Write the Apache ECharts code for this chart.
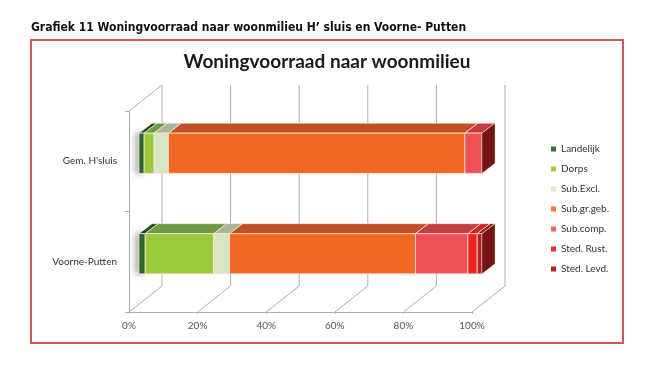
<!DOCTYPE html>
<html>
<head>
<meta charset="utf-8">
<script src="https://cdn.jsdelivr.net/npm/echarts@6/dist/echarts.min.js"></script>
<style>
  html, body { margin: 0; padding: 0; background: #fff; }
  #chart { width: 657px; height: 377px; }
</style>
</head>
<body>
<div id="chart"></div>
<script>
// data (percentages of housing stock)
const categories = ["Gem. H'sluis", "Voorne-Putten"];
const seriesNames = ["Landelijk", "Dorps", "Sub.Excl.", "Sub.gr.geb.", "Sub.comp.", "Sted. Rust.", "Sted. Levd."];
const landelijk = [1.5, 1.8];
const dorps = [2.9, 20.0];
const subExcl = [4.2, 4.6];
const subGrGeb = [86.4, 54.2];
const subComp = [5.0, 15.3];
const stedRust = [0, 2.7];
const stedLevd = [0, 1.4];
const xTicks = [0, 20, 40, 60, 80, 100];

const values = [landelijk, dorps, subExcl, subGrGeb, subComp, stedRust, stedLevd];

// colours: front face, top face, legend swatch
const frontColors = ["#2f6a2c", "#9bc93c", "#d6e5c2", "#f26722", "#ee5156", "#ee2424", "#b3232a"];
const topColors = ["#245222", "#6f9a45", "#a6b897", "#c04f26", "#c73c3e", "#cc2522", "#8e1a1c"];
const legendColors = ["#3d6e37", "#9acd42", "#dbe8c9", "#f57a38", "#f1646b", "#ee2b2b", "#b52227"];
const sideColor = "#751414";
const wallColor = "#a7b0b8";

// 3D offsets (pixels): full depth of the walls, and front/back of the bars
const DX = 33, DY = -26;
const FX = 10, FY = -8;
const BX = 13, BY = -10;

const chart = echarts.init(document.getElementById("chart"));

// stacked start/end per series
const stacked = [];
const running = categories.map(() => 0);
values.forEach((vals, s) => {
  stacked.push(vals.map((v, i) => {
    const start = running[i];
    running[i] += v;
    return [start, running[i], i];
  }));
});

const renderWalls = (params, api) => {
  const cs = params.coordSys;
  const top = cs.y, bottom = cs.y + cs.height;
  const lineStyle = { stroke: wallColor, lineWidth: 1 };
  const children = [];
  xTicks.forEach((v) => {
    const px = api.coord([v, 0])[0];
    children.push({
      type: "line",
      shape: { x1: px + DX, y1: top + DY, x2: px + DX, y2: bottom + DY },
      style: lineStyle,
    });
    children.push({
      type: "line",
      shape: { x1: px, y1: bottom, x2: px + DX, y2: bottom + DY },
      style: lineStyle,
    });
  });
  // top edge of the left wall
  children.push({
    type: "line",
    shape: { x1: cs.x, y1: top, x2: cs.x + DX, y2: top + DY },
    style: lineStyle,
  });
  return { type: "group", children };
};

const makeBarRender = (s) => (params, api) => {
  const start = api.value(0), end = api.value(1), cat = api.value(2);
  const p0 = api.coord([start, cat]);
  const p1 = api.coord([end, cat]);
  const barH = api.size([0, 1])[1] * 0.4;
  const x0 = p0[0] + FX, x1 = p1[0] + FX;
  const yTop = p0[1] + FY - barH / 2, yBot = yTop + barH;
  const border = { stroke: "rgba(255,232,220,0.9)", lineWidth: 0.8 };
  const children = [];
  if (x1 - x0 > 0.1) {
    children.push({
      type: "polygon",
      shape: { points: [[x0, yTop], [x1, yTop], [x1 + BX, yTop + BY], [x0 + BX, yTop + BY]] },
      style: Object.assign({ fill: topColors[s] }, border),
    });
    const front = {
      type: "rect",
      shape: { x: x0, y: yTop, width: x1 - x0, height: barH },
      style: Object.assign({ fill: frontColors[s] }, border),
    };
    if (s === 0) {
      front.style.shadowBlur = 6;
      front.style.shadowOffsetX = -3;
      front.style.shadowColor = "rgba(0,0,0,0.35)";
    }
    children.push(front);
  }
  if (s === values.length - 1) {
    children.push({
      type: "polygon",
      shape: { points: [[x1, yTop], [x1 + BX, yTop + BY], [x1 + BX, yBot + BY], [x1, yBot]] },
      style: { fill: sideColor, stroke: "rgba(255,232,220,0.6)", lineWidth: 0.6 },
    });
  }
  return { type: "group", children };
};

const barSeries = seriesNames.map((name, s) => ({
  name: name,
  type: "custom",
  renderItem: makeBarRender(s),
  itemStyle: { color: legendColors[s] },
  encode: { x: [0, 1], y: 2 },
  data: stacked[s],
  z: 3,
}));

const option = {
  animation: false,
  backgroundColor: "#fff",
  textStyle: { fontFamily: "Lato, 'Open Sans', sans-serif" },
  graphic: [
    {
      type: "text",
      left: 31,
      top: 22,
      style: {
        text: "Grafiek 11 Woningvoorraad naar woonmilieu H\u2019 sluis en Voorne- Putten",
        font: "bold 12px 'DejaVu Sans Condensed', sans-serif",
        fill: "#111",
      },
    },
    {
      type: "rect",
      shape: { x: 31, y: 40, width: 592, height: 303 },
      style: { fill: "none", stroke: "#cc5858", lineWidth: 2 },
      z: 0,
    },
    {
      type: "text",
      x: 327,
      y: 62,
      style: {
        text: "Woningvoorraad naar woonmilieu",
        font: "bold 19px Lato, 'Open Sans', sans-serif",
        fill: "#1a1a1a",
        align: "center",
        verticalAlign: "middle",
      },
    },
  ],
  legend: {
    data: seriesNames,
    orient: "vertical",
    left: 551,
    top: 144,
    itemWidth: 5,
    itemHeight: 5,
    itemGap: 10,
    icon: "rect",
    padding: 0,
    textStyle: { fontSize: 10, color: "#333", fontFamily: "Lato, sans-serif" },
  },
  grid: { left: 129, top: 111, width: 343, height: 201, containLabel: false },
  xAxis: {
    type: "value",
    min: 0,
    max: 100,
    interval: 20,
    axisLine: { show: true, lineStyle: { color: wallColor } },
    axisTick: { show: true, length: 2, lineStyle: { color: wallColor } },
    splitLine: { show: false },
    axisLabel: { formatter: "{value}%", fontSize: 10, color: "#555", margin: 9 },
  },
  yAxis: {
    type: "category",
    data: categories,
    inverse: true,
    axisLine: { show: true, lineStyle: { color: wallColor } },
    axisTick: { show: true, length: 4, lineStyle: { color: wallColor } },
    splitLine: { show: false },
    axisLabel: { fontSize: 10, color: "#333", margin: 12 },
  },
  series: [
    {
      type: "custom",
      renderItem: renderWalls,
      data: [[0, 0]],
      silent: true,
      z: 1,
    },
  ].concat(barSeries),
};

chart.setOption(option);
</script>
</body>
</html>
